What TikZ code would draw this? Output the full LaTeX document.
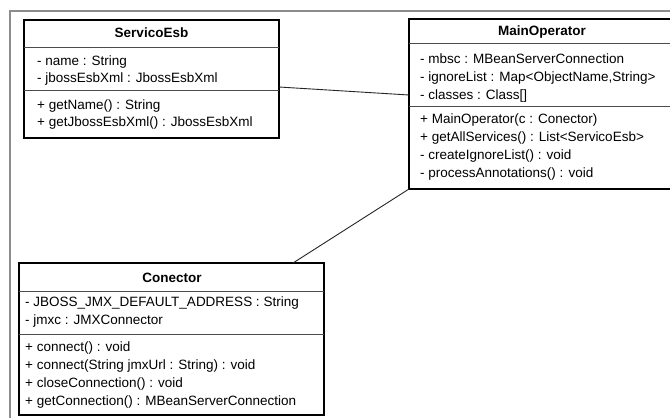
\documentclass[tikz,border=0pt]{standalone}
\usepackage{fontspec}
\setmainfont{Liberation Sans}
\usetikzlibrary{calc}
\tikzset{
  umlbox/.style={draw=black, line width=2.2pt, fill=white, inner sep=0pt, outer sep=0pt},
  sepline/.style={draw=black!70, line width=0.9pt},
  assoc/.style={draw=black!85, line width=0.9pt},
  frameline/.style={draw=black!45, line width=1.2pt},
  member/.style={anchor=west, inner sep=0pt, font=\fontsize{13.5}{15}\selectfont, text height=9.8pt, text depth=2.9pt},
  cname/.style={anchor=center, inner sep=0pt, font=\fontsize{13.5}{15}\selectfont\bfseries, text height=9.8pt, text depth=2.9pt}
}
\begin{document}
\begin{tikzpicture}[x=1pt, y=-1pt]
  \useasboundingbox (0,0) rectangle (670,418);
  \clip (0,0) rectangle (670,418);
  \fill[white] (0,0) rectangle (670,418);

  % package frame
  \draw[frameline] (10,440) -- (10,11) -- (690,11);

  % end points of the associations
  \coordinate (seR) at (279,87);
  \coordinate (moL) at (409,95);
  \coordinate (cnT) at (293,263);

  % ServicoEsb
  \node[umlbox, minimum width=255pt, minimum height=118pt] (se) at (151.5,79) {};
  \draw[sepline] (se.west |- 0,47) -- (se.east |- 0,47);
  \draw[sepline] (se.west |- 0,90) -- (se.east |- 0,90);
  \node[cname] (seT) at (151.5,34) {ServicoEsb};
  \node[member] (se1) at (37,62) {- name : String};
  \node[member] (se2) at (37,79.5) {- jbossEsbXml : JbossEsbXml};
  \node[member] (se3) at (37,106.5) {+ getName() : String};
  \node[member] (se4) at (37,123.5) {+ getJbossEsbXml() : JbossEsbXml};

  % MainOperator
  \node[umlbox, minimum width=265pt, minimum height=170pt] (mo) at (541.5,104) {};
  \draw[sepline] (mo.west |- 0,43) -- (mo.east |- 0,43);
  \draw[sepline] (mo.west |- 0,106) -- (mo.east |- 0,106);
  \node[cname] (moT) at (542,32) {MainOperator};
  \node[member] (mo1) at (420,60) {- mbsc : MBeanServerConnection};
  \node[member] (mo2) at (420,78) {- ignoreList : Map<ObjectName,String>};
  \node[member] (mo3) at (420,96.5) {- classes : Class[]};
  \node[member] (mo4) at (420,120) {+ MainOperator(c : Conector)};
  \node[member] (mo5) at (420,138) {+ getAllServices() : List<ServicoEsb>};
  \node[member] (mo6) at (420,156) {- createIgnoreList() : void};
  \node[member] (mo7) at (420,174) {- processAnnotations() : void};

  % Conector
  \node[umlbox, minimum width=305pt, minimum height=152pt] (cn) at (171.5,339) {};
  \draw[sepline] (cn.west |- 0,291) -- (cn.east |- 0,291);
  \draw[sepline] (cn.west |- 0,334) -- (cn.east |- 0,334);
  \node[cname] (cnT0) at (172,279) {Conector};
  \node[member] (cn1) at (25,303) {- JBOSS\_JMX\_DEFAULT\_ADDRESS : String};
  \node[member] (cn2) at (25,321) {- jmxc : JMXConnector};
  \node[member] (cn3) at (25,348) {+ connect() : void};
  \node[member] (cn4) at (25,366) {+ connect(String jmxUrl : String) : void};
  \node[member] (cn5) at (25,384) {+ closeConnection() : void};
  \node[member] (cn6) at (25,402) {+ getConnection() : MBeanServerConnection};

  % associations between the classes
  \draw[assoc] (seR) -- (moL);
  \draw[assoc] (mo.south west) -- (cnT);
\end{tikzpicture}
\end{document}
